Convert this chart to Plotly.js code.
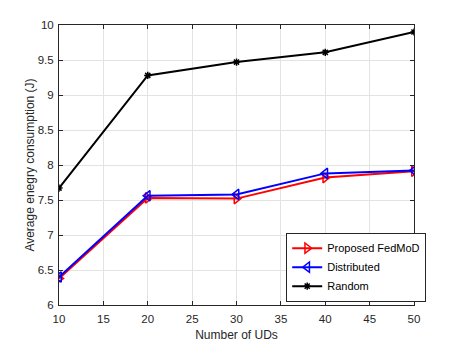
<!DOCTYPE html>
<html>
<head>
<meta charset="utf-8">
<script src="https://cdn.plot.ly/plotly-3.0.1.min.js"></script>
<style>body{margin:0;background:#fff}#plot{width:457px;height:343px}</style>
</head>
<body>
<div id="plot"></div>
<script>
var uds = [10, 20, 30, 40, 50];
var proposed = [6.38, 7.53, 7.52, 7.82, 7.91];
var distributed = [6.40, 7.56, 7.58, 7.88, 7.92];
var random = [7.67, 9.28, 9.47, 9.61, 9.90];

function series(name, y, color, symbol, size) {
    return {
        name: name,
        x: uds,
        y: y,
        mode: 'lines+markers',
        type: 'scatter',
        line: {color: color, width: 2},
        marker: {symbol: symbol, size: size, color: color, line: {color: color, width: 1.5}}
    };
}

var data = [
    series('Proposed FedMoD', proposed, '#ff0000', 'triangle-right-open', 9),
    series('Distributed', distributed, '#0000ff', 'triangle-left-open', 9),
    series('Random', random, '#000000', 'asterisk-open', 6)
];

var axisStyle = {
    showline: true,
    mirror: 'ticks',
    linecolor: '#262626',
    linewidth: 1,
    ticks: 'inside',
    ticklen: 4,
    tickcolor: '#262626',
    showgrid: true,
    gridcolor: '#e3e3e3',
    zeroline: false,
    tickfont: {size: 11.5, color: '#262626'}
};

var layout = {
    width: 457,
    height: 343,
    margin: {l: 59, r: 43, t: 25, b: 38},
    paper_bgcolor: '#fff',
    plot_bgcolor: '#fff',
    font: {family: 'Liberation Sans, Arial, sans-serif', color: '#262626'},
    showlegend: true,
    xaxis: Object.assign({}, axisStyle, {
        range: [10, 50],
        tickvals: [10, 15, 20, 25, 30, 35, 40, 45, 50],
        ticklabelstandoff: 3,
        title: {text: 'Number of UDs', font: {size: 12}, standoff: 6}
    }),
    yaxis: Object.assign({}, axisStyle, {
        range: [6, 10],
        tickvals: [6, 6.5, 7, 7.5, 8, 8.5, 9, 9.5, 10],
        ticktext: ['6', '6.5', '7', '7.5', '8', '8.5', '9', '9.5', '10'],
        ticklabelstandoff: 2,
        title: {text: 'Average enegry consumption (J)', font: {size: 12}, standoff: 0}
    }),
    legend: {
        x: 0.64, y: 0.012, xanchor: 'left', yanchor: 'bottom',
        bgcolor: '#fff',
        bordercolor: '#262626',
        borderwidth: 1,
        font: {size: 11, color: '#000'},
        tracegroupgap: 0,
        itemwidth: 30
    }
};

Plotly.newPlot(document.getElementById('plot'), data, layout, {displayModeBar: false});
</script>
</body>
</html>
